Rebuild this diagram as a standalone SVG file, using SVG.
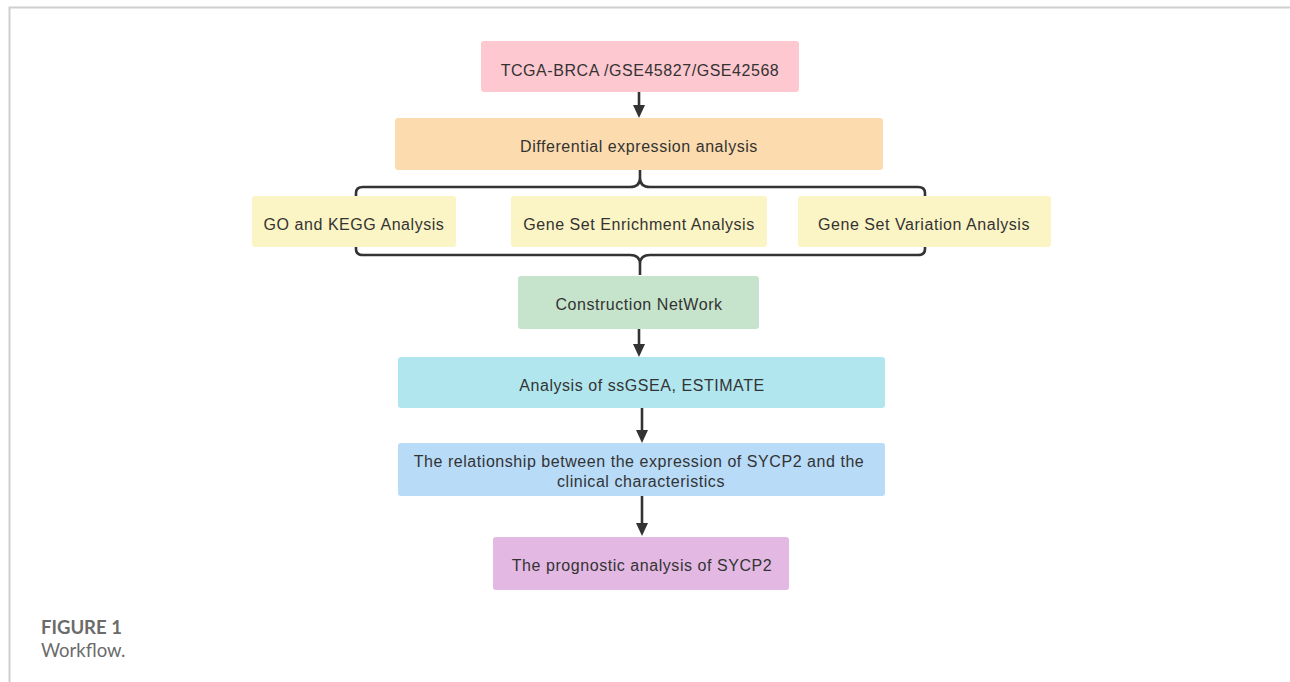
<svg xmlns="http://www.w3.org/2000/svg" width="1290" height="682" viewBox="0 0 1290 682">
<style>
.box{stroke:none}
.t{font-family:"Liberation Sans",Arial,sans-serif;font-size:16px;fill:#333;text-anchor:middle;letter-spacing:0.55px}
.c{fill:none;stroke:#333;stroke-width:2.6}
.cap{font-family:Lato,"Open Sans",sans-serif;fill:#6b6b6b;font-size:18.5px}
</style>
<rect width="1290" height="682" fill="#fff"/>
<path d="M9.5,682 V7.5 H1290" fill="none" stroke="#cfcfcf" stroke-width="2"/>

<g id="connectors">
<path class="c" d="M639,92 V107"/>
<path d="M633,105 H645 L639,118 Z" fill="#333"/>
<path class="c" d="M356,197 V193 Q356,187 363,187 H630 Q640,187 640,178 V170 M640,178 Q640,187 650,187 H918 Q925,187 925,193 V197"/>
<path class="c" d="M356,246 V249 Q356,255 363,255 H630 Q640,255 640,264 V275 M640,264 Q640,255 650,255 H918 Q925,255 925,249 V246"/>
<path class="c" d="M639,329 V346"/>
<path d="M633,344 H645 L639,357 Z" fill="#333"/>
<path class="c" d="M642,408 V432"/>
<path d="M636,430 H648 L642,443 Z" fill="#333"/>
<path class="c" d="M642,496 V525"/>
<path d="M636,523 H648 L642,536 Z" fill="#333"/>
</g>

<g id="n-tcga">
<rect class="box" x="481" y="41" width="318" height="51" rx="3" fill="#fdc8d0"/>
<text class="t" x="640" y="76">TCGA-BRCA /GSE45827/GSE42568</text>
</g>
<g id="n-diff">
<rect class="box" x="395" y="118" width="488" height="52" rx="3" fill="#fcdcae"/>
<text class="t" x="639" y="152">Differential expression analysis</text>
</g>
<g id="n-go">
<rect class="box" x="252" y="196" width="204" height="51" rx="3" fill="#fbf4c4"/>
<text class="t" x="354" y="230">GO and KEGG Analysis</text>
</g>
<g id="n-gsea">
<rect class="box" x="511" y="196" width="256" height="51" rx="3" fill="#fbf4c4"/>
<text class="t" x="639" y="230">Gene Set Enrichment Analysis</text>
</g>
<g id="n-gsva">
<rect class="box" x="798" y="196" width="253" height="51" rx="3" fill="#fbf4c4"/>
<text class="t" x="924" y="230">Gene Set Variation Analysis</text>
</g>
<g id="n-net">
<rect class="box" x="518" y="276" width="241" height="53" rx="3" fill="#c6e3cb"/>
<text class="t" x="639" y="310">Construction NetWork</text>
</g>
<g id="n-ssgsea">
<rect class="box" x="398" y="357" width="487" height="51" rx="3" fill="#b1e6ef"/>
<text class="t" x="642" y="391">Analysis of ssGSEA, ESTIMATE</text>
</g>
<g id="n-rel">
<rect class="box" x="398" y="443" width="487" height="53" rx="3" fill="#b8dbf8"/>
<text class="t" x="639" y="467">The relationship between the expression of SYCP2 and the</text>
<text class="t" x="641" y="487">clinical characteristics</text>
</g>
<g id="n-prog">
<rect class="box" x="493" y="537" width="296" height="53" rx="3" fill="#e3b9e3"/>
<text class="t" x="642" y="571">The prognostic analysis of SYCP2</text>
</g>

<g id="caption">
<text class="cap" x="41" y="634" font-weight="bold">FIGURE 1</text>
<text class="cap" x="41" y="657">Workflow.</text>
</g>
</svg>
